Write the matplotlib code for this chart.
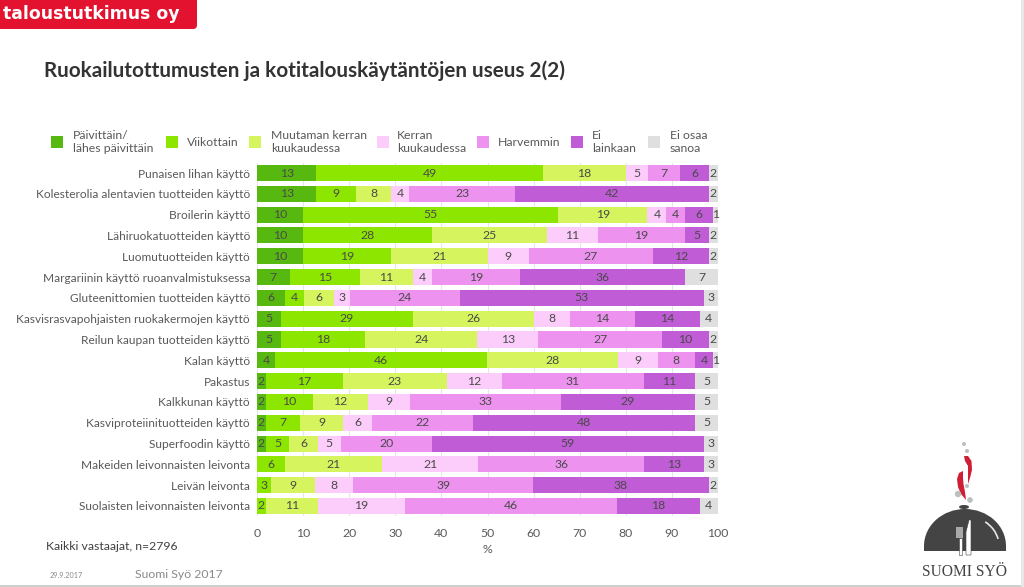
#!/usr/bin/env python3
"""Ruokailutottumusten useus - pinottu vaakapalkki, dian koristeet piirretään erikseen."""
import matplotlib
matplotlib.use("Agg")
import matplotlib.pyplot as plt
import numpy as np
from matplotlib.patches import Arc, Ellipse, FancyBboxPatch, Polygon, Rectangle

plt.rcParams["font.family"] = ["Lato", "DejaVu Sans"]

TITLE = "Ruokailutottumusten ja kotitalouskäytäntöjen useus 2(2)"

categories = [
    "Punaisen lihan käyttö",
    "Kolesterolia alentavien tuotteiden käyttö",
    "Broilerin käyttö",
    "Lähiruokatuotteiden käyttö",
    "Luomutuotteiden käyttö",
    "Margariinin käyttö ruoanvalmistuksessa",
    "Gluteenittomien tuotteiden käyttö",
    "Kasvisrasvapohjaisten ruokakermojen käyttö",
    "Reilun kaupan tuotteiden käyttö",
    "Kalan käyttö",
    "Pakastus",
    "Kalkkunan käyttö",
    "Kasviproteiinituotteiden käyttö",
    "Superfoodin käyttö",
    "Makeiden leivonnaisten leivonta",
    "Leivän leivonta",
    "Suolaisten leivonnaisten leivonta",
]

# palkkien pituudet luettu kuvasta desimaalin tarkkuudella, tekstit pyöristetään
paivittain = [12.9, 12.9, 10.0, 10.0, 10.0, 7.1, 6.0, 5.1, 5.1, 4.0, 1.9, 1.9, 1.9, 1.9, 0, 0, 0]
viikottain = [49.1, 8.6, 55.3, 28.0, 19.0, 15.3, 4.3, 28.8, 18.3, 45.9, 16.7, 10.2, 7.4, 5.1, 6.0, 3.1, 1.9]
muutaman = [18.1, 7.6, 19.4, 25.0, 21.0, 11.4, 6.4, 26.1, 24.4, 28.3, 22.6, 12.0, 9.4, 6.2, 21.1, 9.4, 11.3]
kerran = [4.7, 3.9, 4.1, 10.9, 8.9, 4.2, 3.4, 7.9, 13.2, 8.7, 12.0, 9.0, 6.2, 5.0, 20.9, 8.4, 18.8]
harvemmin = [7.0, 23.0, 4.1, 18.9, 27.0, 19.0, 23.9, 14.0, 26.9, 8.1, 30.7, 32.8, 22.0, 19.8, 36.0, 39.0, 46.0]
ei_lainkaan = [6.2, 42.0, 6.1, 5.2, 12.1, 35.9, 52.9, 14.1, 10.1, 4.0, 11.1, 29.1, 48.2, 58.9, 12.9, 38.1, 18.0]
ei_osaa = [2.0, 2.0, 1.0, 2.0, 2.0, 7.1, 3.1, 4.0, 2.0, 1.0, 5.0, 5.0, 5.0, 3.1, 3.1, 2.0, 4.0]

series = [paivittain, viikottain, muutaman, kerran, harvemmin, ei_lainkaan, ei_osaa]
colors = ["#57b90f", "#8de600", "#d6f45e", "#fccdfb", "#ee92f0", "#c05cd6", "#dfdfdf"]
legend_labels = ["Päivittäin/\nlähes päivittäin", "Viikottain", "Muutaman kerran\nkuukaudessa",
                 "Kerran\nkuukaudessa", "Harvemmin", "Ei\nlainkaan", "Ei osaa\nsanoa"]
xticks = [0, 10, 20, 30, 40, 50, 60, 70, 80, 90, 100]

TEXT = "#404040"
W, H = 1024, 587

fig = plt.figure(figsize=(W / 100, H / 100), dpi=100, facecolor="white")

# kokoruudun kangas pikselikoordinaateilla (otsikko, selite, logo)
bg = fig.add_axes([0, 0, 1, 1])
bg.set_xlim(0, W)
bg.set_ylim(H, 0)
bg.axis("off")

# yläkulman punainen palkki
bg.add_patch(FancyBboxPatch((-20, -20), 217, 49, boxstyle="round,pad=0,rounding_size=4",
                            fc="#e3122f", ec="none"))
bg.text(3, 14, "taloustutkimus oy", color="white", fontsize=12.4, fontweight="bold",
        family="DejaVu Sans", va="center", ha="left")

bg.text(44, 71, TITLE, fontsize=14.9, fontweight="bold", color="#333333", va="center", ha="left")

# selite
swatch_x = [51, 166, 249, 377, 477, 571, 648]
text_x = [73, 187, 271, 397, 498, 592, 670]
for sx, tx, lab, col in zip(swatch_x, text_x, legend_labels, colors):
    bg.add_patch(Rectangle((sx, 136), 12, 12, fc=col, ec="none"))
    bg.text(tx, 142, lab, fontsize=8.8, color="#595959", va="center", ha="left", linespacing=1.25)

bg.text(46, 546, "Kaikki vastaajat, n=2796", fontsize=8.8, color=TEXT, va="center", ha="left")
bg.text(50, 575, "29.9.2017", fontsize=5.2, color="#8a8a8a", va="center", ha="left")
bg.text(135, 575, "Suomi Syö 2017", fontsize=8.8, color="#8a8a8a", va="center", ha="left")

# logo: kupu, veitsi ja haarukka, chilit, höyry
dark = "#444444"
chili = "#cf1f35"
bg.add_patch(Ellipse((965, 546), 82, 74, fc=dark, ec="none"))
bg.add_patch(Rectangle((920, 546), 90, 39, fc="white", ec="none"))  # kuvun alapuoli pois
bg.add_patch(Rectangle((924, 546), 82, 5, fc=dark, ec="none"))
bg.add_patch(Ellipse((964, 507), 10, 4, fc=dark, ec="none"))
bg.add_patch(Rectangle((963, 508), 2, 3, fc=dark, ec="none"))
bg.add_patch(Arc((965, 546), 68, 60, theta1=-50, theta2=-12, color="#e8e8e8", lw=1.2))
bg.add_patch(Polygon([[966, 555], [966, 532], [969, 520], [971, 520], [971, 555]], fc="white", ec=dark, lw=0.4))
bg.add_patch(Rectangle((956, 527), 7, 11, fc="#a8a8a8", ec="none"))
bg.add_patch(Rectangle((958.5, 538), 3, 17, fc="white", ec=dark, lw=0.4))
bg.add_patch(Polygon([[964, 456], [968, 456], [971.5, 461], [972, 470], [970, 478], [968, 484],
                      [968, 474], [968, 466], [965, 461]], fc=chili, ec="none"))
bg.add_patch(Polygon([[963, 471], [959, 473], [957, 479], [958, 487], [961, 494], [966, 500],
                      [965, 492], [963.5, 484], [963, 478]], fc=chili, ec="none"))
for cx, cy, r in [(964, 444, 2.5), (967, 451, 2.5), (967, 486, 2.5), (958, 494, 4), (970, 500, 3.5)]:
    bg.add_patch(Ellipse((cx, cy), r * 1.6, r * 1.6, fc="#b9c0bd", ec="none"))
bg.text(965, 572, "SUOMI SYÖ", family="Liberation Serif", fontsize=11.2, color=dark, ha="center", va="center")

# dian reunat
bg.add_patch(Rectangle((0, 585), W, 2, fc="#cfcfcf", ec="none"))
bg.add_patch(Rectangle((1021, 0), 3, H, fc="#e8e8e8", ec="none"))

# varsinainen kaavio
ax = fig.add_axes([257 / W, 1 - 516.4 / H, (718 - 257) / W, 353.8 / H], facecolor="none")
y = np.arange(len(categories))
left = np.zeros(len(categories))
for vals, col in zip(series, colors):
    vals = np.array(vals)
    bars = ax.barh(y, vals, left=left, height=0.77, color=col, zorder=2)
    labels = [f"{v:.0f}" if v > 0 else "" for v in vals]
    ax.bar_label(bars, labels=labels, label_type="center", fontsize=8.8, color="#4a4a4a", zorder=3)
    left += vals

ax.set_xlim(0, 100)
ax.set_ylim(len(categories) - 0.5, -0.5)
ax.set_yticks(y, categories)
ax.set_xticks(xticks)
ax.tick_params(axis="x", length=0, labelsize=8.8, labelcolor="#595959", pad=8)
ax.tick_params(axis="y", length=0, labelsize=8.55, labelcolor="#595959", pad=5)
ax.grid(axis="x", color="#e6e6e6", lw=0.8, zorder=0)
ax.set_axisbelow(True)
for s in ax.spines.values():
    s.set_visible(False)
ax.set_xlabel("%", fontsize=8.8, color="#595959", labelpad=4)

fig.savefig("out.png", dpi=100)
